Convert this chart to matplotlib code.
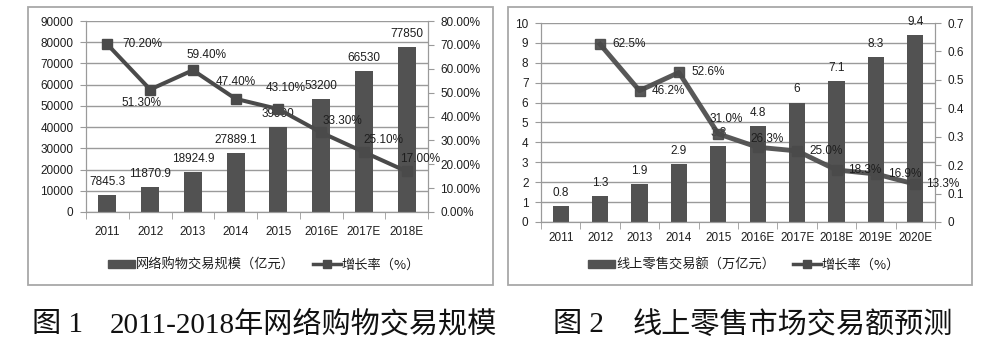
import matplotlib
matplotlib.use("Agg")
import matplotlib.pyplot as plt
from matplotlib.patches import Rectangle
from matplotlib.ticker import FuncFormatter

# figure 1 data
years1 = ["2011", "2012", "2013", "2014", "2015", "2016E", "2017E", "2018E"]
scale1 = [7845.3, 11870.9, 18924.9, 27889.1, 39900, 53200, 66530, 77850]
scale1_labels = ["7845.3", "11870.9", "18924.9", "27889.1", "39900", "53200", "66530", "77850"]
growth1 = [0.702, 0.513, 0.594, 0.474, 0.431, 0.333, 0.251, 0.170]
growth1_labels = ["70.20%", "51.30%", "59.40%", "47.40%", "43.10%", "33.30%", "25.10%", "17.00%"]

# figure 2 data
years2 = ["2011", "2012", "2013", "2014", "2015", "2016E", "2017E", "2018E", "2019E", "2020E"]
sales2 = [0.8, 1.3, 1.9, 2.9, 3.8, 4.8, 6, 7.1, 8.3, 9.4]
sales2_labels = ["0.8", "1.3", "1.9", "2.9", "3.8", "4.8", "6", "7.1", "8.3", "9.4"]
growth2_years = ["2012", "2013", "2014", "2015", "2016E", "2017E", "2018E", "2019E", "2020E"]
growth2 = [0.625, 0.462, 0.526, 0.310, 0.263, 0.250, 0.183, 0.169, 0.133]
growth2_labels = ["62.5%", "46.2%", "52.6%", "31.0%", "26.3%", "25.0%", "18.3%", "16.9%", "13.3%"]

# label offsets in points (style only)
off1 = [(25, 0), (-6, -10), (10, 11), (0, 12), (5, 15), (15, 8), (14, 9), (10, 9)]
off2 = [(21, 0), (21, 0), (21, 0), (6, 11), (6.5, 6), (21, 0), (20.5, 0), (21, 0), (20, 0)]

plt.rcParams["font.family"] = ["Liberation Sans", "DejaVu Sans"]
cjk = ["Noto Sans CJK SC", "DejaVu Sans"]
bar_c = "#525252"
line_c = "#4a4a4a"
txt_c = "#1e1e1e"
grid_c = "#9a9a9a"
fs = 8.5

fig = plt.figure(figsize=(10, 3.52), dpi=100)
fig.patch.set_facecolor("white")

# panel frames
for x0, x1 in [(28, 493), (508, 972)]:
    fig.add_artist(Rectangle((x0 / 1000, (352 - 285) / 352), (x1 - x0) / 1000, 278 / 352,
                             transform=fig.transFigure, fill=False, edgecolor="#a8a8a8", lw=1.3))


def style(ax, ax2, n, pad):
    for a in (ax, ax2):
        a.spines["top"].set_visible(False)
        for s in ("left", "right", "bottom"):
            a.spines[s].set_color(grid_c)
        a.tick_params(colors=txt_c, labelsize=fs, length=4, color=grid_c, pad=5)
    ax.grid(axis="y", color=grid_c, lw=1)
    ax.set_axisbelow(True)
    ax.set_xlim(-0.5, n - 0.5)
    ax.set_xticks(range(n))
    ax.set_xticks([i + 0.5 for i in range(-1, n)], minor=True)
    ax.tick_params(axis="x", which="major", length=0, pad=pad)
    ax.tick_params(axis="x", which="minor", length=5, color=grid_c)


def legend(labels, x):
    h1 = Rectangle((0, 0), 1, 1, color=bar_c)
    h2 = plt.Line2D([], [], color=line_c, lw=2.5, marker="s", ms=6)
    fig.legend([h1, h2], labels, loc="center left", bbox_to_anchor=(x, 0.247), ncol=2,
               frameon=False, borderpad=0, handlelength=2.1, handleheight=0.55,
               columnspacing=1.4, handletextpad=0.05, prop={"family": cjk, "size": 9.5},
               labelcolor=txt_c)


# ---- figure 1
ax = fig.add_axes([86 / 1000, (352 - 212) / 352, 342 / 1000, 191 / 352])
ax2 = ax.twinx()
x1 = list(range(len(years1)))
ax.bar(x1, scale1, width=0.42, color=bar_c, zorder=2)
ax.set_ylim(0, 90000)
ax.set_yticks(range(0, 90001, 10000))
style(ax, ax2, len(years1), 10)
ax.set_xticklabels(years1)
for xi, v, s in zip(x1, scale1, scale1_labels):
    ax.annotate(s, (xi, v), xytext=(0, 9.5), textcoords="offset points",
                ha="center", va="center", fontsize=fs, color=txt_c, zorder=5)
ax2.plot(x1, growth1, color=line_c, lw=2.9, marker="s", ms=6.5, zorder=4)
ax2.set_ylim(0, 0.8)
ax2.set_yticks([i / 10 for i in range(9)])
ax2.yaxis.set_major_formatter(FuncFormatter(lambda v, p: f"{v:.2%}"))
for xi, v, s, o in zip(x1, growth1, growth1_labels, off1):
    ax2.annotate(s, (xi, v), xytext=o, textcoords="offset points",
                 ha="center", va="center", fontsize=fs, color=txt_c, zorder=6)
legend(["网络购物交易规模（亿元）", "增长率（%）"], 0.101)

# ---- figure 2
bx = fig.add_axes([541 / 1000, (352 - 222) / 352, 394 / 1000, 199 / 352])
bx2 = bx.twinx()
x2 = list(range(len(years2)))
bx.bar(x2, sales2, width=0.41, color=bar_c, zorder=2)
bx.set_ylim(0, 10)
bx.set_yticks(range(0, 11))
style(bx, bx2, len(years2), 7)
bx.set_xticklabels(years2)
for xi, v, s in zip(x2, sales2, sales2_labels):
    bx.annotate(s, (xi, v), xytext=(0, 9.5), textcoords="offset points",
                ha="center", va="center", fontsize=fs, color=txt_c, zorder=5)
gx = [years2.index(y) for y in growth2_years]
bx2.plot(gx, growth2, color=line_c, lw=3.5, marker="s", ms=7, zorder=4, alpha=0.92)
bx2.set_ylim(0, 0.7)
bx2.set_yticks([i / 10 for i in range(8)])
bx2.yaxis.set_major_formatter(FuncFormatter(lambda v, p: "0" if v == 0 else f"{v:.1f}"))
for xi, v, s, o in zip(gx, growth2, growth2_labels, off2):
    bx2.annotate(s, (xi, v), xytext=o, textcoords="offset points",
                 ha="center", va="center", fontsize=fs, color=txt_c, zorder=6)
legend(["线上零售交易额（万亿元）", "增长率（%）"], 0.581)

# captions
cap = ["Liberation Serif", "Noto Sans CJK SC"]
cy = 0.078
for x, s in [(0.032, "图 1"), (0.110, "2011-2018年网络购物交易规模"),
             (0.553, "图 2"), (0.633, "线上零售市场交易额预测")]:
    fig.text(x, cy, s, family=cap, fontsize=21, weight="light", color="#111111",
             va="center", ha="left")

fig.savefig("out.png", dpi=100, facecolor="white")
